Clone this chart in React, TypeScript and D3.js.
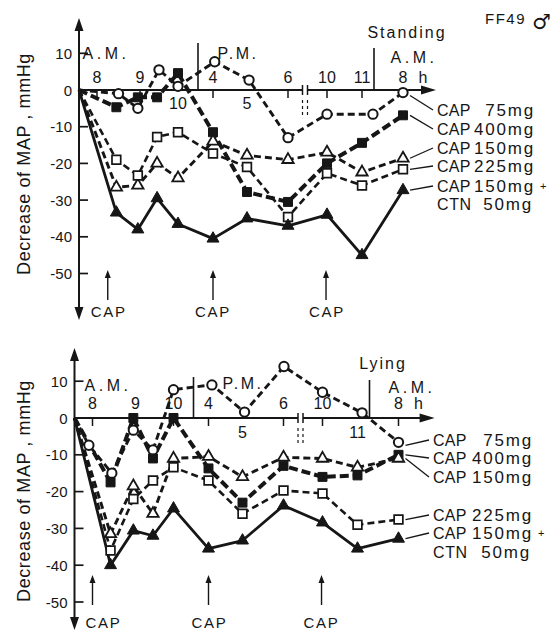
import React from "react";
import * as d3 from "d3";

// ---- time axis (broken clock axis: hours, continuous over the day) ----
const TIME_KNOTS = [7.5, 8, 9, 10, 16, 17, 18, 22, 23, 32];
const KNOT_PX = [79, 97, 140, 178, 213, 247, 288, 327, 362, 403];

const hourTickTimes = [8, 9, 10, 16, 17, 18, 22, 23, 32];
const hourTickLabels = ["8", "9", "10", "4", "5", "6", "10", "11", "8"];
const standingLabelsBelow = [10, 17];
const lyingLabelsBelow = [17, 23];
const yTickValues = [10, 0, -10, -20, -30, -40, -50];

// ---- legend ----
const legendDrug = ["CAP", "CAP", "CAP", "CAP", "CAP"];
const legendDose = ["75mg", "400mg", "150mg", "225mg", "150mg"];
const comboDrug = "CTN";
const comboDose = "50mg";

// ---- Standing ----
const standingTimes = [7.5, 8.45, 8.95, 9.45, 10, 16, 17, 18, 22, 23, 32];
const standingCircleTimes = [7.5, 8.5, 8.95, 9.5, 10, 16.05, 17.05, 18, 22, 25.4, 32];
const standingCap75 = [0, -1, -5, 5.5, 1, 7.7, 2.7, -13, -6.6, -6.6, -0.7];
const standingCap400 = [0, -4.7, -2, -2, 4.6, -11.5, -27.8, -30.5, -20, -14.4, -6.9];
const standingCap150 = [0, -26.5, -26, -20, -24, -14, -17.8, -19, -17, -22.4, -18.6];
const standingCap225 = [0, -19, -23.3, -12.8, -11.5, -17.3, -21, -34.6, -22.7, -26, -21.6];
const standingCapCtn = [0, -33.4, -38, -29.5, -36.5, -40.5, -35, -37, -34, -45, -27.3];
const standingDoseTimes = [8.25, 16, 21.9];

// ---- Lying ----
const lyingTimes = [7.5, 8.42, 8.95, 9.46, 10, 16, 17, 18, 22, 23, 32];
const lyingCircleTimes = [7.5, 7.9, 8.45, 8.95, 9.46, 10, 16.1, 17.05, 18.05, 22, 24, 32];
const lyingCap75 = [0, -7.4, -15, -3.3, -8.7, 7.7, 9, 1.6, 14, 7, 1.4, -6.6];
const lyingCap400 = [0, -17.5, 0, -11, 0, -13.7, -23, -13, -16, -15.6, -10];
const lyingCap150 = [0, -31.5, -18.5, -26, -11, -10.5, -16, -10.7, -11, -13.4, -11];
const lyingCap225 = [0, -36, -22, -17, -13.4, -17, -26, -19.7, -20.5, -29, -27.6];
const lyingCapCtn = [0, -40, -30.6, -32, -24.6, -35.5, -33.3, -23.8, -28.4, -35.5, -32.8];
const lyingDoseTimes = [8.0, 16, 21.9];

const INK = "#161616";
const FONT = "'Liberation Sans', Arial, sans-serif";

const seriesStyles = [
  { symbol: d3.symbolCircle, size: 68, filled: false, dash: "7 4", width: 2.9, mw: 2 },
  { symbol: d3.symbolSquare, size: 80, filled: true, dash: "9 4", width: 4, mw: 1 },
  { symbol: d3.symbolTriangle, size: 56, filled: false, dash: "7 4", width: 2.9, mw: 1.8 },
  { symbol: d3.symbolSquare, size: 76, filled: false, dash: "7 4", width: 2.6, mw: 1.7 },
  { symbol: d3.symbolTriangle, size: 62, filled: true, dash: null, width: 2.8, mw: 1 },
];

type PanelCfg = {
  dx: number;
  y0: number;
  unit: number;
  times: number[];
  circleTimes: number[];
  values: number[][];
  below: number[];
  doseTimes: number[];
  capShift: number[];
  title: string;
  titlePos: [number, number];
  amLeft: [number, number];
  pm: [number, number];
  amRight: [number, number];
  sepTop: [number, number];
  axisTop: number;
  axisBottom: number;
  labelAbove: number;
  labelBelow: number;
  legendX: number;
  legendRows: number[];
  doseRight: number;
  arrowTop: number;
  arrowBottom: number;
  capY: number;
  yLabelCenter: number;
};

function Panel({ c }: { c: PanelCfg }) {
  const x = d3.scaleLinear().domain(TIME_KNOTS).range(KNOT_PX.map((p) => p + c.dx));
  const y = d3.scaleLinear().domain([0, 10]).range([c.y0, c.y0 - 10 * c.unit]);
  const ax = x(7.5);
  const xEnd = 436 + c.dx * 0.3;
  const brk = x(18) + 17;
  const sep1 = x(10) + 20;
  const sep2 = x(23) + 12;
  const line = d3
    .line<[number, number]>()
    .x((d) => x(d[0]))
    .y((d) => y(d[1]));

  const seriesPts = c.values.map((vals, i) =>
    vals.map((v, j) => [i === 0 ? c.circleTimes[j] : c.times[j], v] as [number, number])
  );

  const letter = { fontFamily: FONT, fill: INK } as any;

  return (
    <g>
      {/* y axis */}
      <line x1={ax} x2={ax} y1={c.axisTop + 8} y2={c.axisBottom - 8} stroke={INK} strokeWidth={2} />
      <path d={`M${ax},${c.axisTop} L${ax - 4.5},${c.axisTop + 13} L${ax + 4.5},${c.axisTop + 13} Z`} fill={INK} />
      <path d={`M${ax},${c.axisBottom} L${ax - 4.5},${c.axisBottom - 13} L${ax + 4.5},${c.axisBottom - 13} Z`} fill={INK} />
      {yTickValues.filter((v) => v !== 0).map((v) => (
        <line key={"yt" + v} x1={ax} x2={ax + 9} y1={y(v)} y2={y(v)} stroke={INK} strokeWidth={1.7} />
      ))}
      {yTickValues.map((v) => (
        <text key={"yl" + v} x={ax - 7} y={y(v)} textAnchor="end" dominantBaseline="central" fontSize={15} {...letter}>
          {v < 0 ? "-" + Math.abs(v) : String(v)}
        </text>
      ))}
      <text
        transform={`translate(24,${c.yLabelCenter}) rotate(-90)`}
        textAnchor="middle"
        dominantBaseline="central"
        fontSize={18}
        letterSpacing={0.6}
        {...letter}
      >
        Decrease of MAP , mmHg
      </text>

      {/* x axis */}
      <line x1={ax} x2={brk - 2.5} y1={c.y0} y2={c.y0} stroke={INK} strokeWidth={2} />
      <line x1={brk + 2.5} x2={xEnd - 12} y1={c.y0} y2={c.y0} stroke={INK} strokeWidth={2} />
      <path d={`M${xEnd},${c.y0} L${xEnd - 15},${c.y0 - 4.5} L${xEnd - 15},${c.y0 + 4.5} Z`} fill={INK} />
      {[-2.5, 2.5].map((o) => (
        <g key={"b" + o}>
          <line x1={brk + o} x2={brk + o} y1={c.y0 - 5} y2={c.y0 + 5} stroke={INK} strokeWidth={1.5} />
          <line x1={brk + o} x2={brk + o} y1={c.y0 + 10} y2={c.y0 + 28} stroke={INK} strokeWidth={1.2} strokeDasharray="3 3" />
        </g>
      ))}
      <line x1={sep1} x2={sep1} y1={c.sepTop[0]} y2={c.y0} stroke={INK} strokeWidth={1.6} />
      <line x1={sep2} x2={sep2} y1={c.sepTop[1]} y2={c.y0} stroke={INK} strokeWidth={1.6} />
      {hourTickTimes.map((t, i) => {
        const isBelow = c.below.includes(t);
        return (
          <g key={"h" + i}>
            {!isBelow && <line x1={x(t)} x2={x(t)} y1={c.y0} y2={c.y0 + 8} stroke={INK} strokeWidth={1.5} />}
            <text
              x={x(t)}
              y={isBelow ? c.labelBelow : c.labelAbove}
              textAnchor="middle"
              dominantBaseline="central"
              fontSize={16}
              {...letter}
            >
              {hourTickLabels[i]}
            </text>
          </g>
        );
      })}
      <text x={x(32) + 20} y={c.labelAbove} textAnchor="middle" dominantBaseline="central" fontSize={16} {...letter}>
        h
      </text>
      <text x={c.amLeft[0]} y={c.amLeft[1]} textAnchor="middle" dominantBaseline="central" fontSize={16} letterSpacing={3.5} {...letter}>
        A.M.
      </text>
      <text x={c.pm[0]} y={c.pm[1]} textAnchor="middle" dominantBaseline="central" fontSize={16} letterSpacing={2.5} {...letter}>
        P.M.
      </text>
      <text x={c.amRight[0]} y={c.amRight[1]} textAnchor="middle" dominantBaseline="central" fontSize={16} letterSpacing={3.5} {...letter}>
        A.M.
      </text>
      <text x={c.titlePos[0]} y={c.titlePos[1]} textAnchor="middle" dominantBaseline="central" fontSize={16} letterSpacing={2} {...letter}>
        {c.title}
      </text>

      {/* series lines */}
      {seriesPts.map((pts, i) => {
        const s = seriesStyles[i];
        return (
          <path
            key={"l" + i}
            d={line(pts) || ""}
            fill="none"
            stroke={INK}
            strokeWidth={s.width}
            strokeDasharray={s.dash || undefined}
            strokeLinejoin="round"
          />
        );
      })}
      {/* markers */}
      {seriesPts.map((pts, i) => {
        const s = seriesStyles[i];
        const sym = d3.symbol().type(s.symbol).size(s.size)();
        return pts.slice(1).map((p, j) => (
          <path
            key={"m" + i + "-" + j}
            d={sym || ""}
            transform={`translate(${x(p[0])},${y(p[1])})`}
            fill={s.filled ? INK : "#fff"}
            stroke={INK}
            strokeWidth={s.mw}
          />
        ));
      })}

      {/* legend with leader lines */}
      {seriesPts.map((pts, i) => {
        const last = pts[pts.length - 1];
        const lx = x(last[0]) + 7;
        const ly = y(last[1]) + (i === 0 ? 3 : 0);
        const ry = c.legendRows[i];
        return (
          <g key={"lg" + i}>
            <line x1={lx} y1={ly} x2={c.legendX - 4} y2={ry} stroke={INK} strokeWidth={1.3} />
            <text x={c.legendX} y={ry} dominantBaseline="central" fontSize={16} letterSpacing={0.3} {...letter}>
              {legendDrug[i]}
            </text>
            <text x={c.doseRight} y={ry} textAnchor="end" dominantBaseline="central" fontSize={17} letterSpacing={1.8} {...letter}>
              {legendDose[i]}
            </text>
          </g>
        );
      })}
      <text x={c.doseRight + 5} y={c.legendRows[4]} dominantBaseline="central" fontSize={11} {...letter}>
        +
      </text>
      <text x={c.legendX} y={c.legendRows[5]} dominantBaseline="central" fontSize={16} letterSpacing={0.6} {...letter}>
        {comboDrug}
      </text>
      <text x={c.doseRight - 2} y={c.legendRows[5]} textAnchor="end" dominantBaseline="central" fontSize={17} letterSpacing={1.8} {...letter}>
        {comboDose}
      </text>

      {/* dosing arrows */}
      {c.doseTimes.map((t, i) => (
        <g key={"d" + i}>
          <line x1={x(t)} x2={x(t)} y1={c.arrowTop + 6} y2={c.arrowBottom} stroke={INK} strokeWidth={1.4} />
          <path d={`M${x(t)},${c.arrowTop} L${x(t) - 3},${c.arrowTop + 8} L${x(t) + 3},${c.arrowTop + 8} Z`} fill={INK} />
          <text x={x(t) + c.capShift[i]} y={c.capY} textAnchor="middle" dominantBaseline="central" fontSize={15} letterSpacing={1.8} {...letter}>
            CAP
          </text>
        </g>
      ))}
    </g>
  );
}

const standingCfg: PanelCfg = {
  dx: 0,
  y0: 90,
  unit: 3.67,
  times: standingTimes,
  circleTimes: standingCircleTimes,
  values: [standingCap75, standingCap400, standingCap150, standingCap225, standingCapCtn],
  below: standingLabelsBelow,
  doseTimes: standingDoseTimes,
  capShift: [1, 0, 1],
  title: "Standing",
  titlePos: [407, 32],
  amLeft: [106, 53],
  pm: [238, 53],
  amRight: [414, 57],
  sepTop: [43, 48],
  axisTop: 18,
  axisBottom: 320,
  labelAbove: 77,
  labelBelow: 103,
  legendX: 437,
  legendRows: [110, 129, 148, 166, 186, 204],
  doseRight: 535,
  arrowTop: 270,
  arrowBottom: 300,
  capY: 311,
  yLabelCenter: 164,
};

const lyingCfg: PanelCfg = {
  dx: -4.5,
  y0: 418,
  unit: 3.68,
  times: lyingTimes,
  circleTimes: lyingCircleTimes,
  values: [lyingCap75, lyingCap400, lyingCap150, lyingCap225, lyingCapCtn],
  below: lyingLabelsBelow,
  doseTimes: lyingDoseTimes,
  capShift: [11, 1, 0],
  title: "Lying",
  titlePos: [383, 363],
  amLeft: [108, 385],
  pm: [243, 383],
  amRight: [412, 387],
  sepTop: [377, 380],
  axisTop: 348,
  axisBottom: 630,
  labelAbove: 403,
  labelBelow: 432,
  legendX: 433,
  legendRows: [440, 458, 477, 515, 533, 552],
  doseRight: 533,
  arrowTop: 575,
  arrowBottom: 605,
  capY: 622,
  yLabelCenter: 491,
};

export default function App() {
  return (
    <svg
      width={555}
      height={632}
      viewBox="0 0 555 632"
      style={{ position: "absolute", left: 0, top: 0, background: "#fff" }}
    >
      <rect width={555} height={632} fill="#fff" />
      <Panel c={standingCfg} />
      <Panel c={lyingCfg} />
      <text x={485} y={18} dominantBaseline="central" fontSize={15} letterSpacing={1.5} fontFamily={FONT} fill={INK}>
        FF49
      </text>
      <text x={532} y={22} dominantBaseline="central" fontSize={21} fontFamily="'DejaVu Sans', sans-serif" fill={INK}>
        ♂
      </text>
    </svg>
  );
}
